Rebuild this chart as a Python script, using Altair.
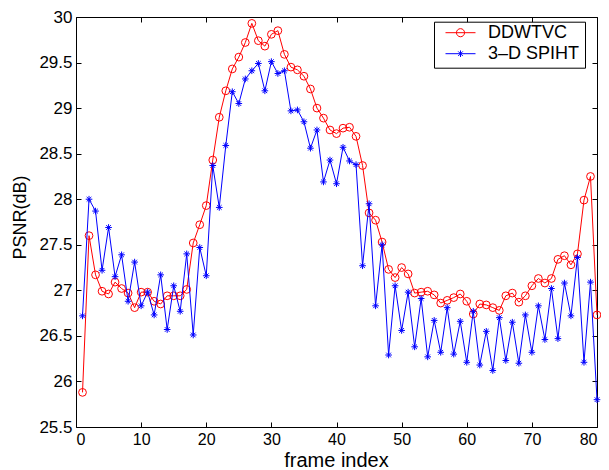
import altair as alt
import pandas as pd

frames = list(range(1, 81))

ddwtvc = [25.88, 27.60, 27.17, 26.99, 26.96, 27.09, 27.02, 26.97, 26.81, 26.98,
          26.98, 26.88, 26.85, 26.94, 26.94, 26.94, 27.01, 27.52, 27.72, 27.93,
          28.43, 28.90, 29.19, 29.43, 29.56, 29.72, 29.93, 29.74, 29.68, 29.81,
          29.85, 29.59, 29.45, 29.42, 29.35, 29.21, 29.00, 28.89, 28.76, 28.72,
          28.78, 28.79, 28.69, 28.37, 27.85, 27.77, 27.53, 27.23, 27.14, 27.25,
          27.18, 26.97, 26.98, 26.99, 26.95, 26.86, 26.89, 26.92, 26.96, 26.88,
          26.74, 26.85, 26.84, 26.81, 26.78, 26.94, 26.97, 26.87, 26.94, 27.05,
          27.13, 27.08, 27.13, 27.34, 27.38, 27.28, 27.40, 27.99, 28.25, 26.73]

spiht = [26.72, 28.00, 27.87, 27.22, 27.69, 27.15, 27.39, 26.88, 27.31, 26.83,
         26.98, 26.73, 27.17, 26.57, 27.05, 26.77, 27.40, 26.51, 27.47, 27.16,
         28.37, 27.91, 28.59, 29.18, 29.05, 29.32, 29.41, 29.49, 29.19, 29.51,
         29.38, 29.41, 28.97, 28.98, 28.85, 28.56, 28.76, 28.19, 28.43, 28.17,
         28.57, 28.42, 28.38, 27.27, 27.95, 26.83, 27.50, 26.29, 27.05, 26.56,
         26.98, 26.38, 26.91, 26.27, 26.67, 26.32, 26.81, 26.30, 26.66, 26.21,
         26.77, 26.18, 26.55, 26.12, 26.70, 26.23, 26.65, 26.20, 26.73, 26.32,
         26.83, 26.46, 27.02, 26.47, 27.08, 26.72, 27.36, 26.21, 27.09, 25.80]

series_names = ["DDWTVC", "3\u2013D SPIHT"]
series_colors = ["#ff0000", "#0000ff"]
x_ticks = [0, 10, 20, 30, 40, 50, 60, 70, 80]
y_ticks = [25.5, 26, 26.5, 27, 27.5, 28, 28.5, 29, 29.5, 30]

df = pd.concat([
    pd.DataFrame({"frame": frames, "psnr": ddwtvc, "series": series_names[0]}),
    pd.DataFrame({"frame": frames, "psnr": spiht, "series": series_names[1]}),
], ignore_index=True)

FONT = "Liberation Sans"
STAR_PATH = "M-1,0L1,0M0,-1L0,1M-0.7,-0.7L0.7,0.7M-0.7,0.7L0.7,-0.7"
# legend symbols: short line with the marker on it (unit = 15 px, shifted right)
LEG_CIRCLE = ("M-0.6,0L1.4,0M0.67,0A0.27,0.27 0 1,1 0.13,0"
              "A0.27,0.27 0 1,1 0.67,0")
LEG_STAR = ("M-0.6,0L1.4,0M0.4,-0.22L0.4,0.22"
            "M0.245,-0.155L0.555,0.155M0.245,0.155L0.555,-0.155")

PLOT_W, PLOT_H = 521, 410

xs = alt.Scale(domain=[0, 80], nice=False, zero=False)
ys = alt.Scale(domain=[25.5, 30], nice=False, zero=False)

x_main = alt.X("frame:Q", scale=xs, axis=alt.Axis(
    orient="bottom", values=x_ticks, offset=-5, tickSize=5, domain=False, grid=False,
    labelPadding=4, labelFontSize=16, title="frame index", titleFontSize=20,
    titleX=260, titleY=44, titleBaseline="alphabetic", titleAlign="center"))
y_main = alt.Y("psnr:Q", scale=ys, axis=alt.Axis(
    orient="left", values=y_ticks, offset=-5, tickSize=5, domain=False, grid=False,
    labelPadding=4, labelFontSize=17, format="~f", title="PSNR(dB)", titleFontSize=18,
    titleAngle=270, titleX=-56, titleY=200, titleBaseline="alphabetic", titleAlign="center"))
x_plain = alt.X("frame:Q", scale=xs, axis=None)
y_plain = alt.Y("psnr:Q", scale=ys, axis=None)
x_top = alt.X("frame:Q", scale=xs, axis=alt.Axis(
    orient="top", values=x_ticks, offset=-5, tickSize=5, domain=False, grid=False,
    labels=False, title=None))
y_right = alt.Y("psnr:Q", scale=ys, axis=alt.Axis(
    orient="right", values=y_ticks, offset=-5, tickSize=5, domain=False, grid=False,
    labels=False, title=None))

base = alt.Chart(df)

layers = []
for i, (name, col) in enumerate(zip(series_names, series_colors)):
    sub = base.transform_filter(alt.datum.series == name)
    xe = x_main if i == 0 else x_plain
    ye = y_main if i == 0 else y_plain
    line = sub.mark_line(strokeWidth=1, color=col).encode(x=xe, y=ye)
    if i == 0:
        pts = sub.mark_point(filled=False, strokeWidth=1, color=col, size=60,
                             shape="circle", opacity=1).encode(x=x_plain, y=y_plain)
    else:
        pts = sub.mark_point(filled=False, strokeWidth=1, color=col, size=44,
                             shape=STAR_PATH, opacity=1).encode(x=x_plain, y=y_plain)
    layers += [line, pts]

leg = alt.Legend(title=None, orient="none", legendX=358, legendY=4.7,
                 strokeColor="black", fillColor="white", padding=5, cornerRadius=0,
                 symbolSize=900, symbolStrokeWidth=1, clipHeight=12, rowPadding=3,
                 labelOffset=18, labelFont=FONT, labelFontSize=18, labelColor="black",
                 labelLimit=300, labelExpr="datum.label + '\u2002'")

legend_layer = base.transform_filter(alt.datum.frame < 0).mark_point(
    filled=False, strokeWidth=1, opacity=1).encode(
    x=x_top, y=y_right,
    color=alt.Color("series:N", scale=alt.Scale(domain=series_names, range=series_colors), legend=leg),
    shape=alt.Shape("series:N", scale=alt.Scale(domain=series_names, range=[LEG_CIRCLE, LEG_STAR]), legend=leg),
)
layers.append(legend_layer)

chart = alt.layer(*layers).properties(
    width=PLOT_W, height=PLOT_H,
    autosize=alt.AutoSizeParams(type="none"),
    padding={"left": 68, "top": 9, "right": 4, "bottom": 43},
    background="white",
).configure_view(stroke="black", strokeWidth=1).configure_axis(
    labelFont=FONT, titleFont=FONT, labelColor="black", titleColor="black",
    tickColor="black", titleFontWeight="normal", tickWidth=1,
)

chart.save("out.html", embed_options={"renderer": "svg", "actions": False})
